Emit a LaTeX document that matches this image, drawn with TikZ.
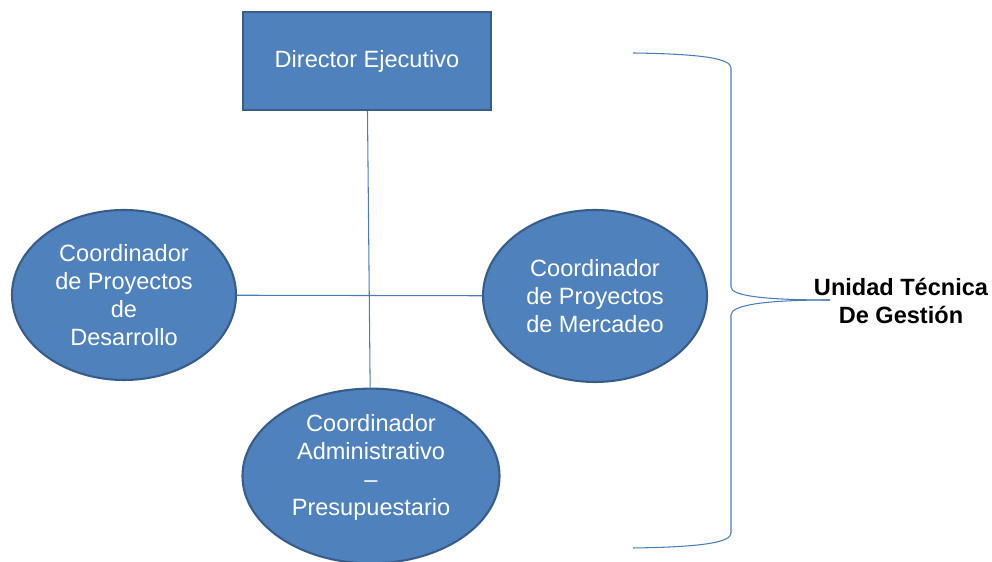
\documentclass[tikz,border=0pt]{standalone}
\usepackage{fontspec}
\setmainfont{Liberation Sans}
\usepackage{tikz}
\usetikzlibrary{shapes.geometric,positioning,calc}

\definecolor{boxblue}{HTML}{4F81BD}
\definecolor{boxedge}{HTML}{385D8A}
\definecolor{linkblue}{HTML}{4A7EBB}

\tikzset{
  unit/.style={draw=boxedge, line width=1.2pt, fill=boxblue, text=white,
    align=center, inner sep=0pt, font=\fontsize{13.4}{15.9}\selectfont},
  boss/.style={unit, rectangle, minimum width=4.96cm, minimum height=1.96cm},
  coord/.style={unit, ellipse},
  link/.style={draw=linkblue, line width=0.6pt}
}

\begin{document}
\begin{tikzpicture}
        \useasboundingbox (0,0) rectangle (19.84,11.24);

		% Draw the units
        	\node[boss] (dir) at (7.34,10.02) {Director Ejecutivo};
        	\node[coord, minimum width=4.48cm, minimum height=3.4cm] (des) at (2.48,5.34)
        		{Coordinador\\de Proyectos\\de\\Desarrollo};
        	\node[coord, minimum width=4.48cm, minimum height=3.44cm] (mer) at (11.90,5.32)
        		{Coordinador\\de Proyectos\\de Mercadeo};
        	\node[coord, minimum width=5.14cm, minimum height=3.44cm] (adm) at (7.42,1.72)
        		{Coordinador\\Administrativo\\--\\Presupuestario\\[-3pt]\mbox{}};

        	% Connect the units
        	\draw[link] (des) -- (mer);
        	\draw[link] (dir) -- (adm);

        	% Brace and its label
        	\coordinate (tip) at (16.6,5.24);
        	\draw[link] (12.66,10.18) .. controls (14.1,10.16) and (14.62,10.06) .. (14.62,9.88)
        		-- (14.62,5.5) .. controls (14.62,5.32) and (15.3,5.24) .. (tip);
        	\draw[link] (12.66,0.28) .. controls (14.1,0.30) and (14.62,0.40) .. (14.62,0.58)
        		-- (14.62,4.94) .. controls (14.62,5.14) and (15.3,5.24) .. (tip);
        	\node[font=\fontsize{13.4}{15.9}\selectfont\bfseries, align=center] (utg) at (18.02,5.22)
        		{Unidad Técnica\\De Gestión};
	\end{tikzpicture}
\end{document}
